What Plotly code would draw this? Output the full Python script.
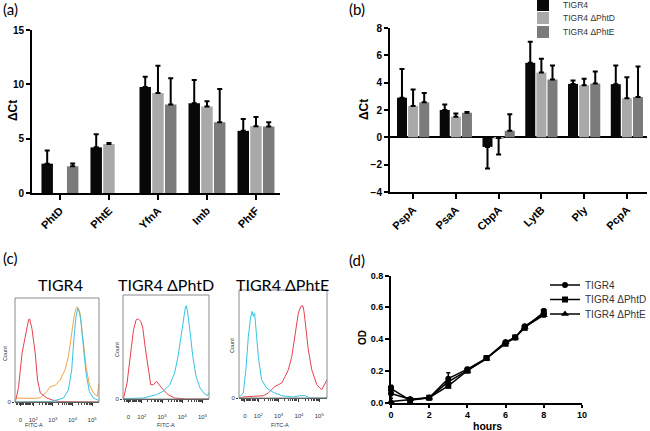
import math
import plotly.graph_objects as go

W, H = 650, 431
def px(x): return x / W
def py(y): return 1 - y / H

FONT = "Liberation Sans, Arial, sans-serif"
SOFT = "Lato, Carlito, Noto Sans, sans-serif"

# ---------------- data ----------------
series_names = ["TIGR4", "TIGR4 ΔPhtD", "TIGR4 ΔPhtE"]

# (a)
genes_a = ["PhtD", "PhtE", "YfnA", "Imb", "PhtF"]
a_tigr4 = [2.7, 4.2, 9.75, 8.25, 5.72]
a_tigr4_err = [1.2, 1.2, 0.95, 2.15, 1.08]
a_phtd = [None, 4.5, 9.2, 7.95, 6.15]
a_phtd_err = [None, 0.1, 2.5, 0.5, 0.85]
a_phte = [2.46, None, 8.15, 6.52, 6.12]
a_phte_err = [0.25, None, 2.4, 3.05, 0.38]

# (b)
genes_b = ["PspA", "PsaA", "CbpA", "LytB", "Ply", "PcpA"]
b_tigr4 = [2.9, 2.0, -0.7, 5.45, 3.91, 3.89]
b_tigr4_err = [2.1, 0.4, 1.58, 1.55, 0.24, 1.36]
b_phtd = [2.29, 1.5, -0.05, 4.74, 3.81, 2.86]
b_phtd_err = [1.21, 0.25, 1.21, 1.01, 0.47, 1.54]
b_phte = [2.56, 1.8, 0.48, 4.23, 3.93, 2.95]
b_phte_err = [0.69, 0.05, 1.2, 1.02, 0.88, 2.23]

# (c) flow cytometry histograms (x in decades of FITC-A, y in % of max count)
c1_red_x = [1.09, 1.25, 1.43, 1.59, 1.76, 1.81, 1.93, 2.10, 2.22, 2.36, 2.69, 3.03, 3.37, 5.35]
c1_red_y = [0, 14, 47, 64, 79, 80, 71, 47, 21, 8.6, 3.8, 1.6, 0.3, 0]
c1_orange_x = [1.09, 1.5, 2.0, 2.36, 2.69, 2.86, 3.12, 3.37, 3.62, 3.79, 3.96, 4.08, 4.18, 4.25,
               4.39, 4.52, 4.69, 4.86, 5.06, 5.27, 5.35]
c1_orange_y = [3.8, 3.5, 3.5, 4, 10, 14.7, 16, 21, 31, 43.6, 66, 82, 90, 91.6,
               85, 63, 34, 16.7, 8.7, 5.6, 18]
c1_cyan_x = [1.09, 2.86, 3.20, 3.54, 3.79, 3.96, 4.08, 4.18, 4.27, 4.32, 4.42, 4.55, 4.69, 4.86,
             5.06, 5.32, 5.35]
c1_cyan_y = [0, 0.3, 2, 3.8, 11.5, 31, 63, 82, 90, 89, 79, 53, 27.6, 10, 3.8, 1.6, 1.5]

c2_red_x = [1.07, 1.10, 1.27, 1.43, 1.59, 1.72, 1.83, 1.95, 2.05, 2.16, 2.32, 2.44, 2.57, 2.73,
            2.86, 3.05, 3.30, 3.62, 4.20, 5.30]
c2_red_y = [0, 1, 15.4, 44.2, 66.6, 76.2, 76.9, 74.6, 68.2, 50.6, 28.2, 13.7, 13.7, 17,
            13.7, 9, 4.2, 1, 0, 0]
c2_cyan_x = [1.07, 2.08, 2.73, 3.05, 3.38, 3.62, 3.79, 3.95, 4.06, 4.16, 4.20, 4.27, 4.39, 4.52,
             4.68, 4.88, 5.09, 5.25, 5.30]
c2_cyan_y = [0.3, 1, 4.2, 7.4, 13.7, 25, 41, 63.5, 79.5, 89, 89.7, 82.7, 63.5, 41,
             21.8, 10.5, 5.1, 3.2, 5.8]

c3_cyan_x = [1.05, 1.10, 1.26, 1.39, 1.51, 1.63, 1.70, 1.75, 1.82, 1.89, 2.00, 2.16, 2.41, 2.74,
             3.15, 3.72, 4.05, 4.30, 4.55, 5.38]
c3_cyan_y = [0, 1.5, 4.6, 26.2, 57, 75.6, 80.2, 75.6, 78.7, 64.8, 38.5, 17, 9.2, 5.2,
             2.1, 0.9, 2.1, 2.1, 0, 0]
c3_red_x = [1.10, 1.26, 1.75, 2.25, 2.49, 2.66, 2.82, 2.99, 3.15, 3.32, 3.48, 3.65, 3.81, 3.97,
            4.09, 4.19, 4.25, 4.35, 4.46, 4.63, 4.88, 5.12, 5.29, 5.38]
c3_red_y = [0, 1, 1.5, 2.1, 4.6, 7.7, 10.8, 12.3, 13.9, 20, 26.2, 38.5, 60, 78.6,
            84.8, 85.4, 80.2, 63.3, 44.7, 26.2, 12.3, 7.7, 13.9, 17]

flow_titles = ["TIGR4", "TIGR4 ΔPhtD", "TIGR4 ΔPhtE"]
flow_tickvals = [1.34, 2, 3, 4, 5]
flow_ticktext = ["0", "10<sup>2</sup>", "10<sup>3</sup>", "10<sup>4</sup>", "10<sup>5</sup>"]

# (d) growth curves
hours = [0, 1, 2, 3, 4, 5, 6, 6.5, 7, 8]
od_tigr4 = [0.057, 0.02, 0.03, 0.15, 0.21, 0.28, 0.38, 0.41, 0.48, 0.56]
od_tigr4_err = [0.03, 0, 0, 0.037, 0.01, 0, 0.01, 0, 0, 0.02]
od_phtd = [0.088, 0.015, 0.03, 0.105, 0.2, 0.28, 0.37, 0.41, 0.47, 0.57]
od_phtd_err = [0.02, 0, 0, 0.01, 0.01, 0, 0, 0, 0, 0.02]
od_phte = [0.006, 0.02, 0.03, 0.13, 0.2, 0.275, 0.38, 0.41, 0.475, 0.55]
od_phte_err = [0, 0, 0, 0.01, 0, 0, 0, 0, 0, 0.01]

# ---------------- figure ----------------
bar_colors = ["#080808", "#a9a9a9", "#7b7b7b"]
fig = go.Figure()


def err_split(vals, errs):
    up, down = [], []
    for v, e in zip(vals, errs):
        e = e or 0
        if v is not None and v < 0:
            up.append(0); down.append(e)
        else:
            up.append(e); down.append(0)
    return up, down


a_sets = [(a_tigr4, a_tigr4_err), (a_phtd, a_phtd_err), (a_phte, a_phte_err)]
b_sets = [(b_tigr4, b_tigr4_err), (b_phtd, b_phtd_err), (b_phte, b_phte_err)]
legend_ids = ["legend", "legend2", "legend3"]

for i, (vals, errs) in enumerate(a_sets):
    up, down = err_split(vals, errs)
    fig.add_trace(go.Bar(x=genes_a, y=vals, name=series_names[i], marker_color=bar_colors[i],
                         marker_line_width=0, xaxis="x", yaxis="y", showlegend=False,
                         error_y=dict(type="data", symmetric=False, array=up, arrayminus=down,
                                      color="black", thickness=2, width=2.5)))
for i, (vals, errs) in enumerate(b_sets):
    up, down = err_split(vals, errs)
    fig.add_trace(go.Bar(x=genes_b, y=vals, name=series_names[i], marker_color=bar_colors[i],
                         marker_line_width=0, xaxis="x2", yaxis="y2", showlegend=True,
                         legend=legend_ids[i],
                         error_y=dict(type="data", symmetric=False, array=up, arrayminus=down,
                                      color="black", thickness=2, width=2.5)))

RED, CYAN, ORANGE = "#e8414e", "#35c4e6", "#f2a446"
flow = [
    [(c1_red_x, c1_red_y, RED), (c1_orange_x, c1_orange_y, ORANGE), (c1_cyan_x, c1_cyan_y, CYAN)],
    [(c2_red_x, c2_red_y, RED), (c2_cyan_x, c2_cyan_y, CYAN)],
    [(c3_red_x, c3_red_y, RED), (c3_cyan_x, c3_cyan_y, CYAN)],
]
for k, curves in enumerate(flow):
    for (xs, ys, col) in curves:
        fig.add_trace(go.Scatter(x=xs, y=ys, mode="lines", line=dict(color=col, width=1),
                                 xaxis=f"x{k+3}", yaxis=f"y{k+3}", showlegend=False,
                                 hoverinfo="skip"))

od_sets = [(od_tigr4, od_tigr4_err, "circle", 6), (od_phtd, od_phtd_err, "square", 6),
           (od_phte, od_phte_err, "triangle-up", 7)]
for i, (vals, errs, sym, sz) in enumerate(od_sets):
    fig.add_trace(go.Scatter(x=hours, y=vals, mode="lines+markers", name=series_names[i],
                             line=dict(color="black", width=1.5),
                             marker=dict(symbol=sym, size=sz, color="black"),
                             error_y=dict(type="data", array=errs, color="black", thickness=1.5, width=2),
                             xaxis="x6", yaxis="y6", cliponaxis=False,
                             legend=f"legend{i+4}"))

# ---------------- axes ----------------
bold = dict(family=FONT, color="black", weight="bold")
axis_common = dict(showline=True, linecolor="black", linewidth=2, ticks="outside",
                   tickwidth=2, tickcolor="black", showgrid=False, zeroline=False,
                   automargin=False)

layout = dict(
    width=W, height=H, margin=dict(l=0, r=0, t=0, b=0, autoexpand=False),
    paper_bgcolor="white", plot_bgcolor="white",
    barmode="group", bargap=0.22, bargroupgap=0.1,
    xaxis=dict(domain=[px(32), px(280)], anchor="y", range=[-0.57, 4.49], ticklen=5,
               tickangle=-45, tickfont=dict(size=11, **bold), **axis_common),
    yaxis=dict(domain=[py(193), py(30)], anchor="x", range=[0, 15], tickvals=[0, 5, 10, 15],
               ticklen=4, tickfont=dict(size=10, **bold), **axis_common),
    xaxis2=dict(domain=[px(390), px(647)], anchor="y2", range=[-0.54, 5.47], ticklen=5,
                tickangle=-45, tickfont=dict(size=11, **bold), **axis_common),
    yaxis2=dict(domain=[py(192), py(28)], anchor="x2", range=[-4, 8], dtick=2, ticklen=4,
                tickfont=dict(size=10, **bold),
                **{**axis_common, "zeroline": True}, zerolinecolor="black", zerolinewidth=2),
    xaxis6=dict(domain=[px(391), px(582)], anchor="y6", range=[0, 10], dtick=2, ticklen=3,
                ticklabelstandoff=0,
                tickfont=dict(size=9, **bold), **axis_common),
    yaxis6=dict(domain=[py(402.5), py(275.5)], anchor="x6", range=[0, 0.8], dtick=0.2,
                tickformat=".1f", ticklen=4, tickfont=dict(size=9, **bold), **axis_common),
)

flow_dom_x = [(15, 99), (123, 209), (239, 327)]
flow_dom_y = [(402, 298), (399, 295), (398, 290)]
flow_range = [[1.07, 5.35], [1.07, 5.32], [1.05, 5.38]]
minor_vals = [n + math.log10(m) for n in range(2, 5) for m in range(2, 10)]
minor_vals += [1.15, 1.22, 1.28, 1.40, 1.46, 1.52, 1.58, 1.64, 1.70, 1.76, 1.82, 1.88, 1.94]
shapes = []
for k in range(3):
    xa, ya = f"xaxis{k+3}", f"yaxis{k+3}"
    layout[xa] = dict(domain=[px(flow_dom_x[k][0]), px(flow_dom_x[k][1])], anchor=f"y{k+3}",
                      range=flow_range[k], tickvals=flow_tickvals, ticktext=flow_ticktext,
                      tickfont=dict(family=FONT, size=6, color="#333"), ticks="outside",
                      ticklen=3, tickwidth=1, tickcolor="#333", ticklabelstandoff=9,
                      minor=dict(tickvals=minor_vals, ticks="outside", ticklen=2, tickcolor="#444",
                                 tickwidth=1),
                      showline=True, linecolor="#333", linewidth=1, showgrid=False,
                      zeroline=False, automargin=False)
    layout[ya] = dict(domain=[py(flow_dom_y[k][0]), py(flow_dom_y[k][1])], anchor=f"x{k+3}",
                      range=[0, 100], tickvals=[0], ticktext=["0"],
                      tickfont=dict(family=FONT, size=6, color="#333"), ticks="outside", ticklen=2,
                      tickcolor="#333", showline=False, showgrid=False, zeroline=False,
                      automargin=False)
    shapes.append(dict(type="rect", xref=f"x{k+3} domain", yref=f"y{k+3} domain",
                       x0=0, x1=1, y0=0, y1=1, line=dict(color="#8a8a8a", width=1)))

layout["shapes"] = shapes

# legends: one per entry so the rows sit where the reference has them
leg_pos = [(523, 5), (523, 18), (523, 32), (545, 285), (545, 299.5), (545, 314)]
for i, (lx, ly) in enumerate(leg_pos):
    key = "legend" if i == 0 else f"legend{i+1}"
    layout[key] = dict(x=px(lx), y=py(ly), xanchor="left", yanchor="middle",
                       xref="paper", yref="paper", bgcolor="rgba(0,0,0,0)", borderwidth=0,
                       itemwidth=30,
                       font=dict(family=FONT, size=8.5 if i < 3 else 10, color="#333"))

ann = []
def text(x, y, s, size, family=FONT, angle=0, weight="normal", color="black"):
    ann.append(dict(x=px(x), y=py(y), xref="paper", yref="paper", text=s, showarrow=False,
                    xanchor="center", yanchor="middle", textangle=angle,
                    font=dict(family=family, size=size, color=color, weight=weight)))

text(10, 9, "(a)", 15, SOFT)
text(357, 9, "(b)", 15, SOFT)
text(10, 258, "(c)", 15, SOFT)
text(357, 260, "(d)", 15, SOFT)
text(13, 111, "ΔCt", 12, angle=-90, weight="bold")
text(364, 110, "ΔCt", 12, angle=-90, weight="bold")
text(362, 338, "OD", 10, angle=-90, weight="bold")
text(487, 425.5, "hours", 10.5, weight="bold")
flow_title_x = [60, 166, 282]
for k in range(3):
    text(flow_title_x[k], 284, flow_titles[k], 16, SOFT)
for (cx, cy) in [(5, 354), (117, 350), (232, 345)]:
    text(cx, cy, "Count", 5.5, angle=-90, color="#333")
for cx in [34, 166, 280]:
    text(cx, 425, "FITC-A", 5.5, color="#333")
layout["annotations"] = ann

fig.update_layout(**layout)
fig.write_html("out.html", config={"displayModeBar": False},
               post_script="document.body.style.margin='0';document.body.style.overflow='hidden';")
